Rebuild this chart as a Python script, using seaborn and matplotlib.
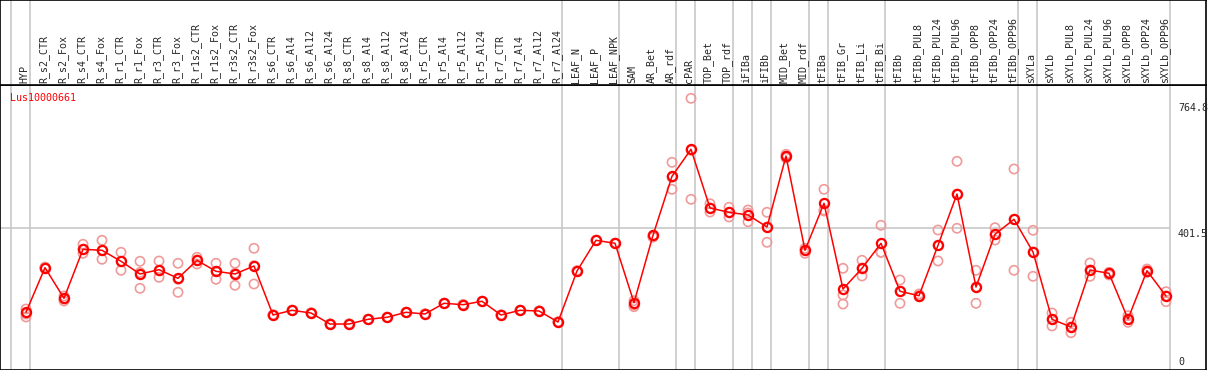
import pandas as pd
import matplotlib
matplotlib.use('Agg')
import matplotlib.pyplot as plt
import seaborn as sns

# samples (x axis)
samples = ['HYP', 'R_s2_CTR', 'R_s2_Fox', 'R_s4_CTR', 'R_s4_Fox', 'R_r1_CTR', 'R_r1_Fox',
           'R_r3_CTR', 'R_r3_Fox', 'R_r1s2_CTR', 'R_r1s2_Fox', 'R_r3s2_CTR', 'R_r3s2_Fox',
           'R_s6_CTR', 'R_s6_Al4', 'R_s6_Al12', 'R_s6_Al24', 'R_s8_CTR', 'R_s8_Al4', 'R_s8_Al12',
           'R_s8_Al24', 'R_r5_CTR', 'R_r5_Al4', 'R_r5_Al12', 'R_r5_Al24', 'R_r7_CTR', 'R_r7_Al4',
           'R_r7_Al12', 'R_r7_Al24', 'LEAF_N', 'LEAF_P', 'LEAF_NPK', 'SAM', 'AR_Bet', 'AR_rdf',
           'cPAR', 'TOP_Bet', 'TOP_rdf', 'iFIBa', 'iFIBb', 'MID_Bet', 'MID_rdf', 'tFIBa',
           'tFIB_Gr', 'tFIB_Li', 'tFIB_Bi', 'tFIBb', 'tFIBb_PUL8', 'tFIBb_PUL24', 'tFIBb_PUL96',
           'tFIBb_OPP8', 'tFIBb_OPP24', 'tFIBb_OPP96', 'sXYLa', 'sXYLb', 'sXYLb_PUL8',
           'sXYLb_PUL24', 'sXYLb_PUL96', 'sXYLb_OPP8', 'sXYLb_OPP24', 'sXYLb_OPP96']

# mean expression
mean_expr = [167, 291.5, 206, 342.9, 340.1, 309.4, 273.9, 285.9, 261.9, 312.2, 281.4, 273.9, 296.2,
             159.3, 172.4, 164.9, 134.1, 134.1, 147.3, 152.9, 166.8, 162.1, 192, 188.1, 197.6,
             159.3, 172.4, 170.5, 139.7, 282.3, 368, 359.7, 193.7, 382, 546.9, 622.4, 458.3,
             446.3, 438.8, 405.2, 603.6, 340.1, 471.4, 231.9, 289.8, 359.7, 225.5, 213.2, 354.1,
             497.4, 237.5, 384.8, 426.7, 335.4, 147.3, 125.8, 285, 275.8, 148.1, 283.1, 212.4]

# replicates
rep1 = [176, 293.4, 212.4, 356.9, 368, 334.5, 309.4, 310.2, 303.8, 320.5, 303.8, 303.8, 345.7,
        159.3, 172.4, 164.9, 134.1, 134.1, 147.3, 152.9, 166.8, 162.1, 192, 188.1, 197.6,
        159.3, 172.4, 170.5, 139.7, 282.3, 368, 359.7, 199.3, 382, 586, 764.8, 470.3,
        460.3, 452.7, 446.3, 608.4, 345.7, 510.6, 289.8, 312.2, 410, 257.1, 218, 396.8,
        588.8, 284.2, 403.3, 567.3, 396, 164.9, 138.9, 304.6, 278.6, 157.3, 287.8, 224.4]
rep2 = [162, 290.6, 204, 342.9, 340.1, 309.4, 278.3, 283.1, 259.1, 313, 281.4, 275.8, 297.1,
        159.3, 172.4, 164.9, 134.1, 134.1, 147.3, 152.9, 166.8, 162.1, 192, 188.1, 197.6,
        159.3, 172.4, 170.5, 139.7, 282.3, 368, 359.7, 187.2, 377.3, 544.1, 619.6, 458.3,
        446.3, 444.3, 405.2, 603.6, 340.1, 452.7, 215.2, 289.8, 334.5, 225.5, 213.2, 354.1,
        497.4, 237.5, 384.8, 426.7, 335.4, 147.3, 125.8, 285, 275.8, 148.1, 283.1, 212.4]
rep3 = [153.7, 290.6, 198.4, 331.7, 315, 284.2, 233.9, 264.6, 222.7, 301.8, 259.1, 242.3, 245.9,
        159.3, 172.4, 164.9, 134.1, 134.1, 147.3, 152.9, 166.8, 162.1, 192, 188.1, 197.6,
        159.3, 172.4, 170.5, 139.7, 282.3, 368, 359.7, 182.5, 377.3, 510.6, 482.6, 447.1,
        433.2, 420, 362.5, 598, 331.7, 449.9, 190, 268.3, 334.5, 192, 210.4, 310.2,
        401.6, 192, 368.9, 284.2, 267.4, 128.6, 109.8, 267.4, 271.1, 138.9, 278.6, 196.5]

# last sample index of each group (separator lines)
group_ends = [-1, 0, 28, 31, 34, 35, 37, 38, 39, 41, 42, 45, 52, 53, 60]
y_marks = [764.8, 401.5, 0]
gene = 'Lus10000661'

n = len(samples)
idx = list(range(n))
reps = pd.DataFrame({
    'x': idx * 3,
    'y': rep1 + rep2 + rep3,
})

sns.set_style('white')
plt.rcParams['font.family'] = ['DejaVu Sans Mono']

W, H = 1209, 370
fig = plt.figure(figsize=(W / 100, H / 100), dpi=100)
top_h = 85
ax_w = 1206 / W
ax = fig.add_axes([0, 0, ax_w, (H - top_h) / H])
axl = fig.add_axes([0, (H - top_h) / H, ax_w, top_h / H])

xlim = (-26 / 19, (1206 - 26) / 19)
# y pixel scale: 0 at 372 px, 0.35783 px per unit
ylim = ((372 - H) / 0.35783, (372 - top_h) / 0.35783)

for a in (ax, axl):
    a.set_xlim(*xlim)
    a.set_xticks([])
    a.set_yticks([])
    for s in a.spines.values():
        s.set_color('black')
        s.set_linewidth(1.2)
    for g in group_ends:
        a.axvline(g + 4 / 19, color='#c4c4c4', lw=1.1, zorder=0)

ax.set_ylim(*ylim)
axl.set_ylim(0, 1)

ax.hlines(y_marks[1], xlim[0], group_ends[-1] + 4 / 19, color='#c4c4c4', lw=1.1, zorder=0)

sns.scatterplot(data=reps, x='x', y='y', ax=ax, marker='o', s=44,
                facecolors='none', edgecolor='#f09a9a', linewidth=1.2, zorder=2)
sns.lineplot(x=idx, y=mean_expr, ax=ax, color='red', lw=1.1, marker='o',
             markersize=6.6, markerfacecolor='none', markeredgecolor='red',
             markeredgewidth=1.6, zorder=3)
ax.set_xlabel('')
ax.set_ylabel('')

# sample labels
for i, s in enumerate(samples):
    axl.text(i - 0.08, 0.025, s, rotation=90, ha='center', va='bottom', fontsize=7.2)

# value marks on the right
tx = (1178 - 26) / 19
ax.annotate(f'{y_marks[0]}', (tx, y_marks[0]), xytext=(0, -3.3), textcoords='offset points',
            ha='left', va='top', fontsize=7.2, annotation_clip=False)
ax.annotate(f'{y_marks[1]}', (tx, y_marks[1]), xytext=(0, -0.3), textcoords='offset points',
            ha='left', va='top', fontsize=7.2, annotation_clip=False)
ax.annotate(f'{y_marks[2]}', (tx, y_marks[2]), xytext=(0, 3.4), textcoords='offset points',
            ha='left', va='bottom', fontsize=7.2, annotation_clip=False)

ax.text(10 / 1206, 1 - 8 / (H - top_h), gene, transform=ax.transAxes, color='red',
        ha='left', va='top', fontsize=7.2)

fig.savefig('out.png', dpi=100)
